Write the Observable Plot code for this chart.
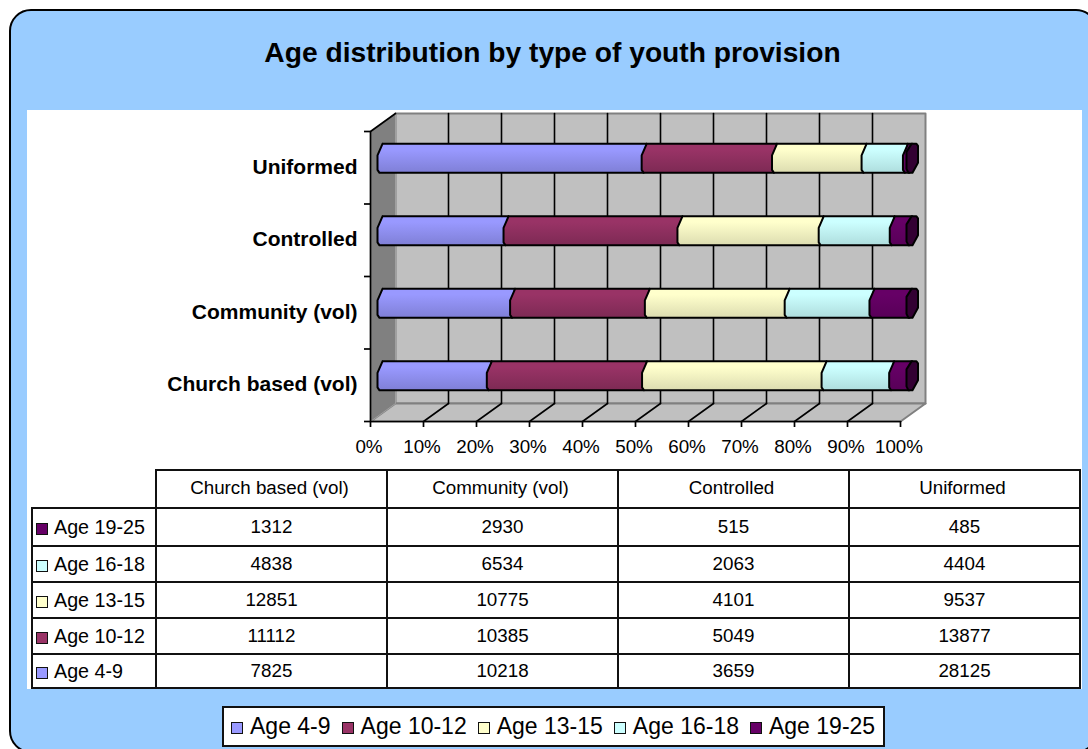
<!DOCTYPE html>
<html><head><meta charset="utf-8">
<script src="https://cdn.jsdelivr.net/npm/d3@7"></script>
<script src="https://cdn.jsdelivr.net/npm/@observablehq/plot@0.6"></script>
<style>
html,body{margin:0;padding:0;background:#fff;overflow:hidden;font-family:"Liberation Sans",Arial,sans-serif;color:#000}
#page{position:relative;width:1088px;height:749px;overflow:hidden}
#frame{position:absolute;left:9px;top:9px;width:1085px;height:740px;background:#99ccff;border:2px solid #000;border-radius:22px;box-sizing:content-box}
#panel{position:absolute;left:27px;top:110px;width:1055px;height:579px;background:#fff}
#title{position:absolute;left:0;top:36px;width:1105px;text-align:center;font-weight:bold;font-size:28.2px;line-height:32px}
#chart{position:absolute;left:0;top:0}
#chart svg{display:block;background:transparent}
table{position:absolute;left:31px;top:469px;border-collapse:collapse;table-layout:fixed;width:1048px;font-size:18.8px}
td{border:2px solid #111;text-align:center;padding:0;box-sizing:border-box}
td.blank{border-top:none;border-left:none}
td.head{padding-right:4px;padding-bottom:2px}
td.lab{text-align:left;padding-left:3px;white-space:nowrap;font-size:19.7px}
.sw{display:inline-block;width:10px;height:10px;border:1.5px solid #111;margin-right:6px;vertical-align:-1px}
#legend{position:absolute;left:222px;top:706px;width:663px;height:41px;box-sizing:border-box;background:#fff;border:2px solid #111;font-size:23px;line-height:37px;white-space:nowrap;padding-left:7px}
#legend .sw{width:10px;height:10px;margin-right:7px;margin-left:0;vertical-align:0}
#legend span.it{margin-right:11px}
</style></head><body>
<div id="page">
<div id="frame"></div><div id="panel"></div>
<div id="title">Age distribution by type of youth provision</div>
<div id="chart"></div>
<table id="tbl"></table>
<div id="legend"></div>
</div>
<script>
const categories = ["Church based (vol)", "Community (vol)", "Controlled", "Uniformed"];
const ages = ["Age 4-9", "Age 10-12", "Age 13-15", "Age 16-18", "Age 19-25"];
const age4to9 = [7825, 10218, 3659, 28125];
const age10to12 = [11112, 10385, 5049, 13877];
const age13to15 = [12851, 10775, 4101, 9537];
const age16to18 = [4838, 6534, 2063, 4404];
const age19to25 = [1312, 2930, 515, 485];
const seriesValues = [age4to9, age10to12, age13to15, age16to18, age19to25];
const colors = ["#9999ff", "#993366", "#ffffcc", "#ccffff", "#660066"];
const shades = ["#7f7fd6", "#7d2a54", "#dcdcb0", "#aedddd", "#580058"];
const xTicks = [0,10,20,30,40,50,60,70,80,90,100];

const pxX = 5.3, pxY = 72.5;      // pixels per unit of the two scales
const wallX = 25/pxX, wallY = 18/pxY;  // depth of the box
const barX = 7/pxX;               // the bars stand part-way into the box
const px = v => v/pxX, py = v => v/pxY;

// back wall, side wall and floor, in scale units
function poly(id, pts){ return [...pts, pts[0]].map(([x,y]) => ({id, x, y})); }
const backWall = poly("b", [[wallX,wallY],[100+wallX,wallY],[100+wallX,4+wallY],[wallX,4+wallY]]);
const sideWall = poly("s", [[0,0],[wallX,wallY],[wallX,4+wallY],[0,4]]);
const floorBox = poly("f", [[0,0],[100,0],[100+wallX,wallY],[wallX,wallY]]);

const gridBack = xTicks.slice(1,-1).flatMap(t => [{t,x:t+wallX,y:wallY},{t,x:t+wallX,y:4+wallY}]);
const gridFloor = xTicks.slice(1,-1).flatMap(t => [{t,x:t,y:0},{t,x:t+wallX,y:wallY}]);

// stacked shares
const totals = categories.map((_,r) => d3.sum(seriesValues, s => s[r]));
const segments = seriesValues.map((s,k) => categories.flatMap((c,r) => {
  const x0 = d3.sum(seriesValues.slice(0,k), q => q[r]) / totals[r] * 100;
  const x1 = x0 + s[r] / totals[r] * 100;
  const mid = r + .5 + py(9.4), top = mid + py(14.5), bot = mid - py(14.5);
  const a = x0 + barX, b = x1 + barX;
  const pts = [[a+px(5),top],[a,top-py(11.5)],[a,bot+py(3)],[a+px(2),bot],[b+px(2),bot],[b+px(2),top-py(11.5)],[b+px(5),top]];
  return poly(c, pts);
}));
const caps = categories.flatMap((c,r) => {
  const mid = r + .5 + py(9.4), top = mid + py(14.5), bot = mid - py(14.5), b = 100 + barX;
  return poly(c, [[b-px(1),top-py(8)],[b+px(4),top],[b+px(9),top],[b+px(10.5),top-py(2)],[b+px(10.5),bot+py(10)],[b+px(5),bot],[b+px(1),bot],[b-px(1),bot+py(4)]]);
});

const defs = () => {
  const s = d3.create("svg:defs");
  colors.forEach((c,i) => {
    const g = s.append("linearGradient").attr("id","g"+i).attr("x1",0).attr("x2",0).attr("y1",0).attr("y2",1);
    g.append("stop").attr("offset",0).attr("stop-color",c);
    g.append("stop").attr("offset",.2).attr("stop-color",c);
    g.append("stop").attr("offset",1).attr("stop-color",shades[i]);
  });
  return s.node();
};

const chart = Plot.plot({
  width: 1088, height: 749,
  style: {background:"transparent", fontFamily:'"Liberation Sans",Arial,sans-serif', color:"#000", overflow:"visible"},
  x: {type:"linear", domain:[0,100], range:[370,900], axis:null},
  y: {type:"linear", domain:[0,4], range:[421,131], axis:null},
  marks: [
    defs,
    Plot.line(backWall, {x:"x", y:"y", fill:"#c0c0c0", stroke:"#808080", strokeWidth:2}),
    Plot.line(floorBox, {x:"x", y:"y", fill:"#c0c0c0", stroke:"#808080", strokeWidth:2}),
    Plot.line(sideWall, {x:"x", y:"y", fill:"#808080", stroke:"#a0a0a0", strokeWidth:1}),
    Plot.line(gridBack, {x:"x", y:"y", z:"t", stroke:"#000", strokeWidth:1.6}),
    Plot.line(gridFloor, {x:"x", y:"y", z:"t", stroke:"#000", strokeWidth:1.6}),
    ...segments.map((seg,i) => Plot.line(seg, {x:"x", y:"y", z:"id", fill:`url(#g${i})`, stroke:"#000", strokeWidth:2, curve:"linear"})),
    Plot.line(caps, {x:"x", y:"y", z:"id", fill:"#330033", stroke:"#000", strokeWidth:2}),
    Plot.line([{x:0,y:4},{x:0,y:0},{x:100,y:0}], {x:"x", y:"y", stroke:"#000", strokeWidth:1.7}),
    Plot.line([{x:0,y:4},{x:wallX,y:4+wallY}], {x:"x", y:"y", stroke:"#000", strokeWidth:1.7}),
    Plot.axisX({anchor:"bottom", ticks:xTicks, tickFormat:()=>"", tickSize:6, stroke:"#000", strokeWidth:1.7, label:null, y:0}),
    Plot.text(xTicks, {x:d=>d, y:0, text:d=>d+"%", dx:-1.5, dy:25, fontSize:18.8, fill:"#000"}),
    Plot.axisY({anchor:"left", ticks:[0,1,2,3,4], tickFormat:()=>"", tickSize:6, stroke:"#000", strokeWidth:1.7, label:null, x:0}),
    Plot.text(categories, {text:d=>d, x:0, y:(d,i)=>i+.5, dx:-13, dy:-.5, textAnchor:"end", fontWeight:"bold", fontSize:21, fill:"#000"})
  ]
});
document.getElementById("chart").append(chart);

// data table
const sw = c => `<span class="sw" style="background:${c}"></span>`;
const heights = [38,38,36,36,36,34];
let h = `<colgroup><col style="width:124px">${categories.map(()=>'<col style="width:231px">').join("")}</colgroup>`;
h += `<tr style="height:${heights[0]}px"><td class="blank"></td>${categories.map(c=>`<td class="head">${c}</td>`).join("")}</tr>`;
[4,3,2,1,0].forEach((k,i) => {
  h += `<tr style="height:${heights[i+1]}px"><td class="lab">${sw(colors[k])}${ages[k]}</td>${seriesValues[k].map(v=>`<td>${v}</td>`).join("")}</tr>`;
});
document.getElementById("tbl").innerHTML = h;
document.getElementById("legend").innerHTML = ages.map((a,k)=>`<span class="it">${sw(colors[k])}${a}</span>`).join("");
</script>
</body></html>
